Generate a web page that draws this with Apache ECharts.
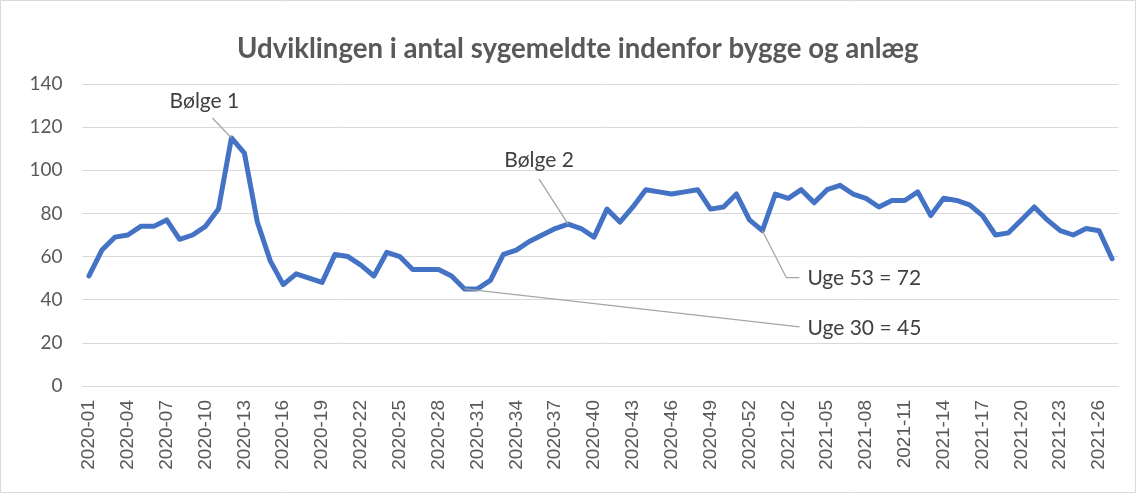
<!DOCTYPE html>
<html>
<head>
<meta charset="utf-8">
<script src="https://cdn.jsdelivr.net/npm/echarts@6/dist/echarts.min.js"></script>
<style>html,body{margin:0;padding:0;background:#fff}#c{width:1136px;height:493px}</style>
</head>
<body>
<div id="c"></div>
<script>
// Categories: weeks 2020-01..2020-53, 2021-01..2021-27
const weeks2020 = Array.from({length:53},(_,i)=>'2020-'+String(i+1).padStart(2,'0'));
const weeks2021 = Array.from({length:27},(_,i)=>'2021-'+String(i+1).padStart(2,'0'));
const categories = weeks2020.concat(weeks2021);

const sygemeldte = [51,63,69,70,74,74,77,68,70,74,82,115,108,76,58,47,52,50,48,61,
  60,56,51,62,60,54,54,54,51,45,45,49,61,63,67,70,73,75,73,69,
  82,76,83,91,90,89,90,91,82,83,89,77,72,89,87,91,85,91,93,89,
  87,83,86,86,90,79,87,86,84,79,70,71,77,83,77,72,70,73,72,59];

const yTicks = [0,20,40,60,80,100,120,140];
const title = 'Udviklingen i antal sygemeldte indenfor bygge og anlæg';

// annotations: text, category index
const annotations = [
  {text:'Bølge 1', idx:11},
  {text:'Bølge 2', idx:37},
  {text:'Uge 53 = 72', idx:52},
  {text:'Uge 30 = 45', idx:29}
];

const chart = echarts.init(document.getElementById('c'));
const FONT = 'Lato';
chart.setOption({
  animation:false,
  backgroundColor:'#fff',
  title:{text:title,left:232,top:30,textStyle:{fontFamily:FONT,fontSize:27.6,fontWeight:'bold',color:'#595959'}},
  grid:{left:82.5,right:17.5,top:84,bottom:107,containLabel:false},
  xAxis:{type:'category',data:categories,boundaryGap:true,
    axisLine:{lineStyle:{color:'#d9d9d9',width:1}},
    axisTick:{show:false},
    axisLabel:{interval:2,rotate:90,margin:14,color:'#595959',fontFamily:'Liberation Sans',fontSize:19}},
  yAxis:{type:'value',min:yTicks[0],max:yTicks[yTicks.length-1],interval:20,
    axisLine:{show:false},axisTick:{show:false},
    splitLine:{lineStyle:{color:'#d9d9d9',width:1}},
    axisLabel:{margin:20,color:'#595959',fontFamily:FONT,fontSize:19}},
  series:[{type:'line',data:sygemeldte,symbol:'none',
    lineStyle:{color:'#4472C4',width:5,join:'round',cap:'round'}}]
});

function ann(){
  const g = [{type:'rect',shape:{x:0.5,y:0.5,width:1135,height:492},style:{fill:'none',stroke:'#d9d9d9',lineWidth:1},silent:true}];
  const ls = {stroke:'#a6a6a6',lineWidth:1.3};
  const ts = {fill:'#404040',font:'21px '+FONT};
  annotations.forEach(a=>{
    const p = chart.convertToPixel({seriesIndex:0},[a.idx,sygemeldte[a.idx]]);
    const x=p[0], y=p[1];
    if(a.text==='Bølge 1'){
      g.push({type:'line',shape:{x1:x-19,y1:y-20,x2:x,y2:y},style:ls,z:10});
      g.push({type:'text',x:x-27,y:y-37,style:Object.assign({text:a.text,textAlign:'center',textVerticalAlign:'middle'},ts),z:10});
    } else if(a.text==='Bølge 2'){
      g.push({type:'line',shape:{x1:x-29,y1:y-45,x2:x,y2:y},style:ls,z:10});
      g.push({type:'text',x:x-29,y:y-64,style:Object.assign({text:a.text,textAlign:'center',textVerticalAlign:'middle'},ts),z:10});
    } else if(a.text.startsWith('Uge 53')){
      g.push({type:'polyline',shape:{points:[[x,y],[x+24,y+47],[x+37,y+47]]},style:Object.assign({fill:'none'},ls),z:10});
      g.push({type:'text',x:x+45,y:y+48,style:Object.assign({text:a.text,textAlign:'left',textVerticalAlign:'middle'},ts),z:10});
    } else {
      g.push({type:'line',shape:{x1:x,y1:y,x2:x+335,y2:y+38},style:ls,z:10});
      g.push({type:'text',x:x+343,y:y+39,style:Object.assign({text:a.text,textAlign:'left',textVerticalAlign:'middle'},ts),z:10});
    }
  });
  chart.setOption({graphic:g});
}
ann();
</script>
</body>
</html>
